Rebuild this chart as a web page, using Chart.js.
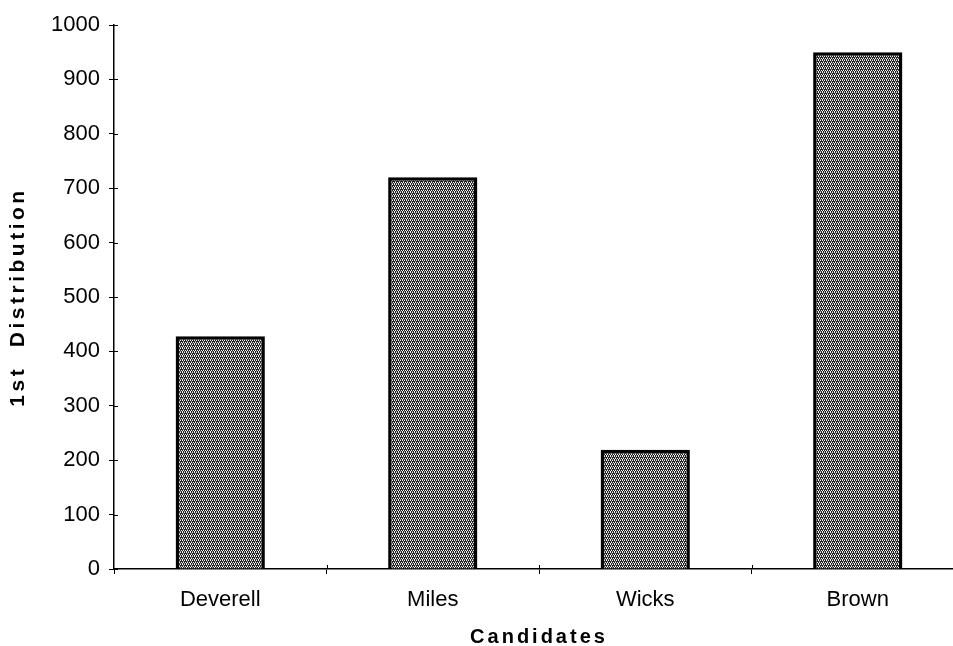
<!DOCTYPE html>
<html>
<head>
<meta charset="utf-8">
<script src="https://cdn.jsdelivr.net/npm/chart.js@4.4.1/dist/chart.umd.min.js"></script>
<style>
  html, body { margin: 0; padding: 0; background: #fff; overflow: hidden; }
  #wrap { width: 968px; height: 646px; }
</style>
</head>
<body>
<div id="wrap"><canvas id="c" width="968" height="646"></canvas></div>
<script>
const categories = ["Deverell", "Miles", "Wicks", "Brown"];
const firstDistribution = [428, 720, 219, 950];
const yTickMin = 0;
const yTickMax = 1000;
const yTickStep = 100;
const xTitle = "Candidates";
const yTitle = "1st  Distribution";

// stipple pattern for the bars
function makePattern() {
  const p = document.createElement('canvas');
  p.width = 4; p.height = 4;
  const g = p.getContext('2d');
  g.fillStyle = '#222';
  g.fillRect(0, 0, 4, 4);
  g.fillStyle = '#f0f0f0';
  g.fillRect(0, 0, 1, 1); g.fillRect(2, 0, 1, 1);
  g.fillRect(1, 2, 1, 1); g.fillRect(3, 2, 1, 1);
  g.fillRect(2, 3, 1, 1);
  g.fillStyle = '#999';
  g.fillRect(3, 1, 1, 1); g.fillRect(0, 3, 1, 1);
  const ctx = document.getElementById('c').getContext('2d');
  return ctx.createPattern(p, 'repeat');
}

const FONT = '"Liberation Sans", Arial, sans-serif';

const spacedTitles = {
  id: 'spacedTitles',
  beforeDraw(chart) {
    [['x', '3px'], ['y', '3.5px']].forEach(([id, sp]) => {
      const s = chart.scales[id];
      if (s && !s._spacedWrapped) {
        const orig = s.drawTitle;
        s.drawTitle = function () {
          const ctx = this.ctx;
          ctx.save();
          ctx.letterSpacing = sp;
          orig.apply(this, arguments);
          ctx.restore();
        };
        s._spacedWrapped = true;
      }
    });
  }
};

const innerTicks = {
  id: 'innerTicks',
  afterDatasetsDraw(chart) {
    const { ctx, scales: { x, y } } = chart;
    ctx.save();
    ctx.strokeStyle = '#000';
    ctx.lineWidth = 1;
    ctx.beginPath();
    y.ticks.forEach((t, i) => {
      const py = Math.round(y.getPixelForTick(i)) + 0.5;
      ctx.moveTo(y.right, py);
      ctx.lineTo(y.right + 4, py);
    });
    for (let i = 0; i < categories.length - 1; i++) {
      const px = Math.round((x.getPixelForValue(i) + x.getPixelForValue(i + 1)) / 2) + 0.5;
      ctx.moveTo(px, x.top);
      ctx.lineTo(px, x.top - 4);
    }
    ctx.stroke();
    ctx.restore();
  }
};

new Chart(document.getElementById('c'), {
  type: 'bar',
  data: {
    labels: categories,
    datasets: [{
      data: firstDistribution,
      backgroundColor: makePattern(),
      borderColor: '#000',
      borderWidth: 3.5,
      barPercentage: 0.42,
      categoryPercentage: 1.0
    }]
  },
  options: {
    responsive: false,
    animation: false,
    layout: { padding: { top: 25, right: 4, left: 0, bottom: 0 } },
    plugins: { legend: { display: false }, tooltip: { enabled: false } },
    scales: {
      x: {
        offset: true,
        afterFit: s => { s.height = 77; },
        grid: { offset: true, drawOnChartArea: false, drawTicks: true, tickLength: 5, color: '#000', lineWidth: 1 },
        border: { display: true, color: '#000', width: 1.5 },
        ticks: { color: '#000', font: { family: FONT, size: 22 }, padding: 13, maxRotation: 0 },
        title: { display: true, text: xTitle, color: '#000', font: { family: FONT, size: 20, weight: 'bold' }, padding: { top: 0, bottom: -3 } }
      },
      y: {
        min: yTickMin,
        max: yTickMax,
        afterFit: s => { s.width = 114; },
        grid: { drawOnChartArea: false, drawTicks: true, tickLength: 5, color: '#000', lineWidth: 1 },
        border: { display: true, color: '#000', width: 1.5 },
        ticks: { stepSize: yTickStep, color: '#000', font: { family: FONT, size: 22 }, padding: 9,
                 callback: v => String(v) },
        title: { display: true, text: yTitle, color: '#000', font: { family: FONT, size: 21, weight: 'bold' }, padding: { top: 6, bottom: 0 } }
      }
    }
  },
  plugins: [spacedTitles, innerTicks]
});
</script>
</body>
</html>
